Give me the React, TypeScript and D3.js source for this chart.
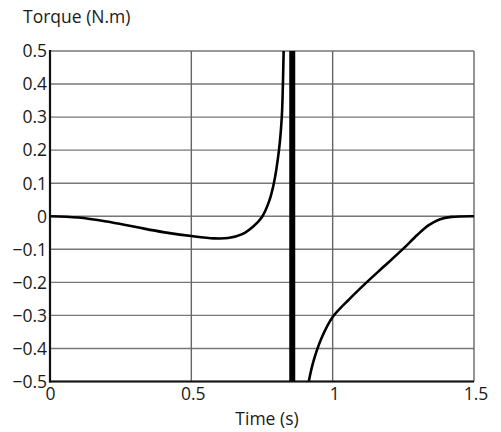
import React from "react";
import * as d3 from "d3";

const yTicks = [-0.5, -0.4, -0.3, -0.2, -0.1, 0, 0.1, 0.2, 0.3, 0.4, 0.5];
const xTicks = [0, 0.5, 1, 1.5];
const xTickLabels = ["0", "0.5", "1", "1.5"];
const yTickLabels = ["\u22120.5", "\u22120.4", "\u22120.3", "\u22120.2", "\u22120.1", "0", "0.1", "0.2", "0.3", "0.4", "0.5"];

const leftTime = [0, 0.1, 0.2, 0.3, 0.4, 0.5, 0.58, 0.63, 0.68, 0.72, 0.75, 0.775, 0.792, 0.81, 0.82, 0.824, 0.827];
const leftTorque = [0, -0.004, -0.016, -0.032, -0.048, -0.06, -0.067, -0.066, -0.054, -0.03, -0.002, 0.045, 0.1, 0.2, 0.3, 0.4, 0.52];

const rightTime = [0.911, 0.93, 0.96, 1.0, 1.06, 1.12, 1.18, 1.25, 1.3, 1.34, 1.38, 1.42, 1.5];
const rightTorque = [-0.52, -0.445, -0.37, -0.305, -0.25, -0.2, -0.153, -0.098, -0.056, -0.027, -0.009, -0.002, 0];

const singularityTime = 0.857;

const xLabel = "Time (s)";
const yLabel = "Torque (N.m)";

export default function App() {
  const W = 501, H = 432;
  const x = d3.scaleLinear().domain([0, 1.5]).range([50, 474]);
  const y = d3.scaleLinear().domain([-0.5, 0.5]).range([381.5, 51]);
  const line = d3
    .line<[number, number]>()
    .x((d) => x(d[0]))
    .y((d) => y(d[1]))
    .curve(d3.curveCatmullRom.alpha(0.5));
  const left = line(leftTime.map((t, i) => [t, leftTorque[i]] as [number, number])) || "";
  const right = line(rightTime.map((t, i) => [t, rightTorque[i]] as [number, number])) || "";
  const font = "'Open Sans', sans-serif";
  return (
    <svg width={W} height={H} style={{ position: "absolute", left: 0, top: 0, background: "#fff" }} fontFamily={font}>
      <defs>
        <clipPath id="plot">
          <rect x={x(0)} y={y(0.5)} width={x(1.5) - x(0)} height={y(-0.5) - y(0.5)} />
        </clipPath>
      </defs>
      {yTicks.map((v) => (
        <line key={"h" + v} x1={x(0)} x2={x(1.5)} y1={y(v)} y2={y(v)} stroke="#777" strokeWidth={1.4} />
      ))}
      {xTicks.map((v) => (
        <line key={"v" + v} x1={x(v)} x2={x(v)} y1={y(0.5)} y2={y(-0.5)} stroke="#666" strokeWidth={1.4} />
      ))}
      <g clipPath="url(#plot)">
        <path d={left} fill="none" stroke="#000" strokeWidth={2.6} />
        <path d={right} fill="none" stroke="#000" strokeWidth={2.6} />
        <line x1={x(singularityTime)} x2={x(singularityTime)} y1={y(0.5)} y2={y(-0.5)} stroke="#000" strokeWidth={6} />
      </g>
      <line x1={x(0)} x2={x(0)} y1={y(0.5) - 1} y2={y(-0.5) + 1} stroke="#111" strokeWidth={2.2} />
      <line x1={x(0) - 1} x2={x(1.5)} y1={y(-0.5)} y2={y(-0.5)} stroke="#111" strokeWidth={2.2} />
      {yTicks.map((v, i) => (
        <text key={"yl" + v} x={47} y={y(v)} dy="0.36em" textAnchor="end" fontSize={17.5} fill="#1a1a1a">
          {yTickLabels[i]}
        </text>
      ))}
      {xTicks.map((v, i) => (
        <text key={"xl" + v} x={x(v) + (i === 0 ? 0.5 : 2)} y={400} textAnchor="middle" fontSize={17.5} fill="#1a1a1a">
          {xTickLabels[i]}
        </text>
      ))}
      <text x={267} y={425} textAnchor="middle" fontSize={17.5} fill="#1a1a1a">
        {xLabel}
      </text>
      <text x={23} y={23} fontSize={17.5} fill="#1a1a1a">
        {yLabel}
      </text>
    </svg>
  );
}
